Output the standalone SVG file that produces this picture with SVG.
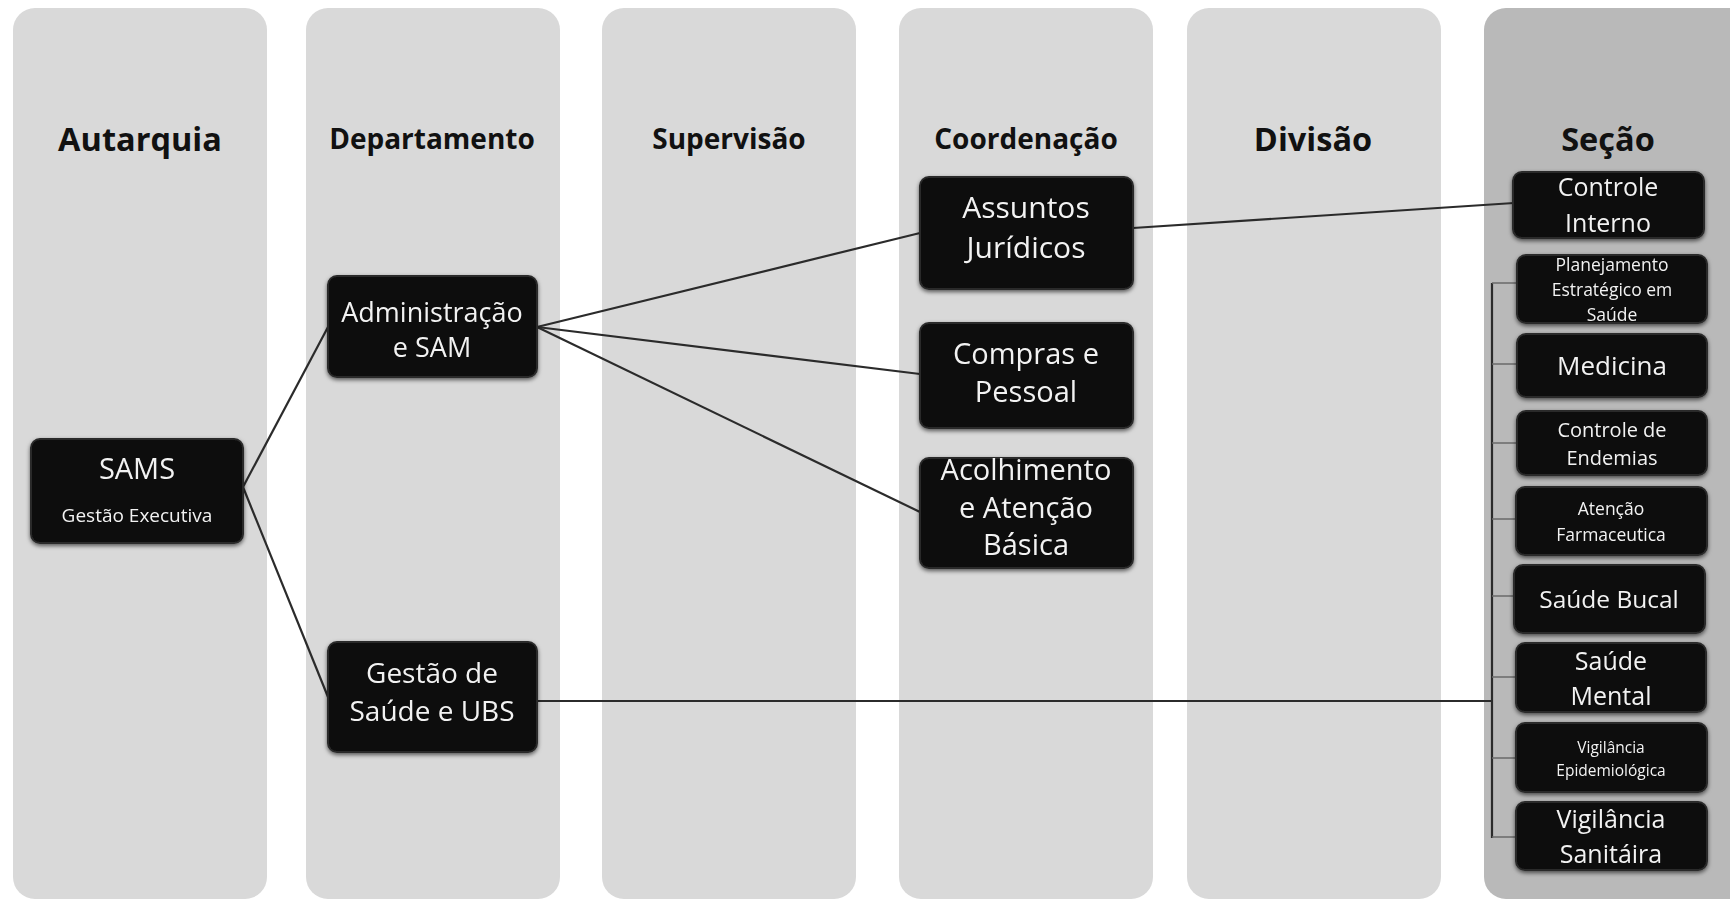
<svg xmlns="http://www.w3.org/2000/svg" width="1730" height="901" viewBox="0 0 1730 901">
<style>
.col{fill:#d9d9d9}
.colS{fill:#b9b9b9}
.hd{font-family:"Open Sans","Noto Sans",sans-serif;font-weight:bold;font-size:28px;fill:#111;text-anchor:middle}
.hdL{font-size:32.5px}
.box{fill:#0b0b0b;stroke:#2a2a2a;stroke-width:2}
.t{font-family:"Open Sans","Noto Sans",sans-serif;fill:#f2f2f2;text-anchor:middle}
.ln{stroke:#2b2b2b;stroke-width:2.2;fill:none}
.tk{stroke:#6a6a6a;stroke-width:1.5;fill:none}
</style>
<defs>
<filter id="sh" x="-10%" y="-10%" width="120%" height="130%">
<feDropShadow dx="0" dy="2" stdDeviation="2" flood-color="#000" flood-opacity="0.6"/>
</filter>
</defs>
<rect width="1730" height="901" fill="#ffffff"/>
<g id="columns">
<rect class="col" x="13" y="8" width="254" height="891" rx="22"/>
<rect class="col" x="306" y="8" width="254" height="891" rx="22"/>
<rect class="col" x="602" y="8" width="254" height="891" rx="22"/>
<rect class="col" x="899" y="8" width="254" height="891" rx="22"/>
<rect class="col" x="1187" y="8" width="254" height="891" rx="22"/>
<rect class="colS" x="1484" y="8" width="270" height="891" rx="22"/>
<text class="hd hdL" x="140" y="151">Autarquia</text>
<text class="hd" x="432" y="149">Departamento</text>
<text class="hd" x="729" y="149">Supervisão</text>
<text class="hd" x="1026" y="149">Coordenação</text>
<text class="hd hdL" x="1313" y="151">Divisão</text>
<text class="hd hdL" x="1608" y="151">Seção</text>
</g>
<g id="connectors">
<line class="ln" x1="243" y1="487" x2="328" y2="327"/>
<line class="ln" x1="243" y1="487" x2="328" y2="697"/>
<line class="ln" x1="537" y1="327" x2="920" y2="233"/>
<line class="ln" x1="537" y1="327" x2="920" y2="374"/>
<line class="ln" x1="537" y1="327" x2="920" y2="512"/>
<line class="ln" x1="1133" y1="228" x2="1514" y2="203"/>
<line class="ln" x1="537" y1="701" x2="1492" y2="701"/>
<line class="ln" x1="1492" y1="283" x2="1492" y2="838"/>
<path class="tk" d="M1492 283H1517M1492 364H1517M1492 443H1517M1492 519H1517M1492 596H1517M1492 677H1517M1492 758H1517M1492 837H1517"/>
</g>
<g id="sams" filter="url(#sh)">
<rect class="box" x="31" y="439" width="212" height="104" rx="9"/>
<text class="t" x="137" y="479" font-size="29">SAMS</text>
<text class="t" x="137" y="522" font-size="19">Gestão Executiva</text>
</g>
<g id="administracao" filter="url(#sh)">
<rect class="box" x="328" y="276" width="209" height="101" rx="9"/>
<text class="t" x="432" y="322" font-size="27">Administração</text>
<text class="t" x="432" y="357" font-size="27">e SAM</text>
</g>
<g id="gestao-saude" filter="url(#sh)">
<rect class="box" x="328" y="642" width="209" height="110" rx="9"/>
<text class="t" x="432" y="683" font-size="28">Gestão de</text>
<text class="t" x="432" y="721" font-size="28">Saúde e UBS</text>
</g>
<g id="assuntos-juridicos" filter="url(#sh)">
<rect class="box" x="920" y="177" width="213" height="112" rx="9"/>
<text class="t" x="1026" y="218" font-size="30">Assuntos</text>
<text class="t" x="1026" y="258" font-size="30">Jurídicos</text>
</g>
<g id="compras-pessoal" filter="url(#sh)">
<rect class="box" x="920" y="323" width="213" height="105" rx="9"/>
<text class="t" x="1026" y="364" font-size="29">Compras e</text>
<text class="t" x="1026" y="402" font-size="29">Pessoal</text>
</g>
<g id="acolhimento" filter="url(#sh)">
<rect class="box" x="920" y="458" width="213" height="110" rx="9"/>
<text class="t" x="1026" y="480" font-size="29">Acolhimento</text>
<text class="t" x="1026" y="518" font-size="29">e Atenção</text>
<text class="t" x="1026" y="555" font-size="29">Básica</text>
</g>
<g id="controle-interno" filter="url(#sh)">
<rect class="box" x="1513" y="172" width="191" height="66" rx="9"/>
<text class="t" x="1608" y="196" font-size="25">Controle</text>
<text class="t" x="1608" y="232" font-size="25">Interno</text>
</g>
<g id="planejamento" filter="url(#sh)">
<rect class="box" x="1517" y="255" width="190" height="68" rx="9"/>
<text class="t" x="1612" y="271" font-size="17.5">Planejamento</text>
<text class="t" x="1612" y="296" font-size="17.5">Estratégico em</text>
<text class="t" x="1612" y="321" font-size="17.5">Saúde</text>
</g>
<g id="medicina" filter="url(#sh)">
<rect class="box" x="1517" y="334" width="190" height="63" rx="9"/>
<text class="t" x="1612" y="375" font-size="26">Medicina</text>
</g>
<g id="controle-endemias" filter="url(#sh)">
<rect class="box" x="1517" y="411" width="190" height="64" rx="9"/>
<text class="t" x="1612" y="437" font-size="20">Controle de</text>
<text class="t" x="1612" y="465" font-size="20">Endemias</text>
</g>
<g id="atencao-farmaceutica" filter="url(#sh)">
<rect class="box" x="1516" y="487" width="191" height="68" rx="9"/>
<text class="t" x="1611" y="515" font-size="17.5">Atenção</text>
<text class="t" x="1611" y="541" font-size="17.5">Farmaceutica</text>
</g>
<g id="saude-bucal" filter="url(#sh)">
<rect class="box" x="1514" y="565" width="191" height="68" rx="9"/>
<text class="t" x="1609" y="608" font-size="24.5">Saúde Bucal</text>
</g>
<g id="saude-mental" filter="url(#sh)">
<rect class="box" x="1516" y="643" width="190" height="69" rx="9"/>
<text class="t" x="1611" y="670" font-size="25">Saúde</text>
<text class="t" x="1611" y="705" font-size="25">Mental</text>
</g>
<g id="vigilancia-epidemiologica" filter="url(#sh)">
<rect class="box" x="1516" y="723" width="191" height="69" rx="9"/>
<text class="t" x="1611" y="753" font-size="15.5">Vigilância</text>
<text class="t" x="1611" y="776" font-size="15.5">Epidemiológica</text>
</g>
<g id="vigilancia-sanitaria" filter="url(#sh)">
<rect class="box" x="1516" y="802" width="191" height="68" rx="9"/>
<text class="t" x="1611" y="828" font-size="25">Vigilância</text>
<text class="t" x="1611" y="863" font-size="25">Sanitáira</text>
</g>
</svg>
